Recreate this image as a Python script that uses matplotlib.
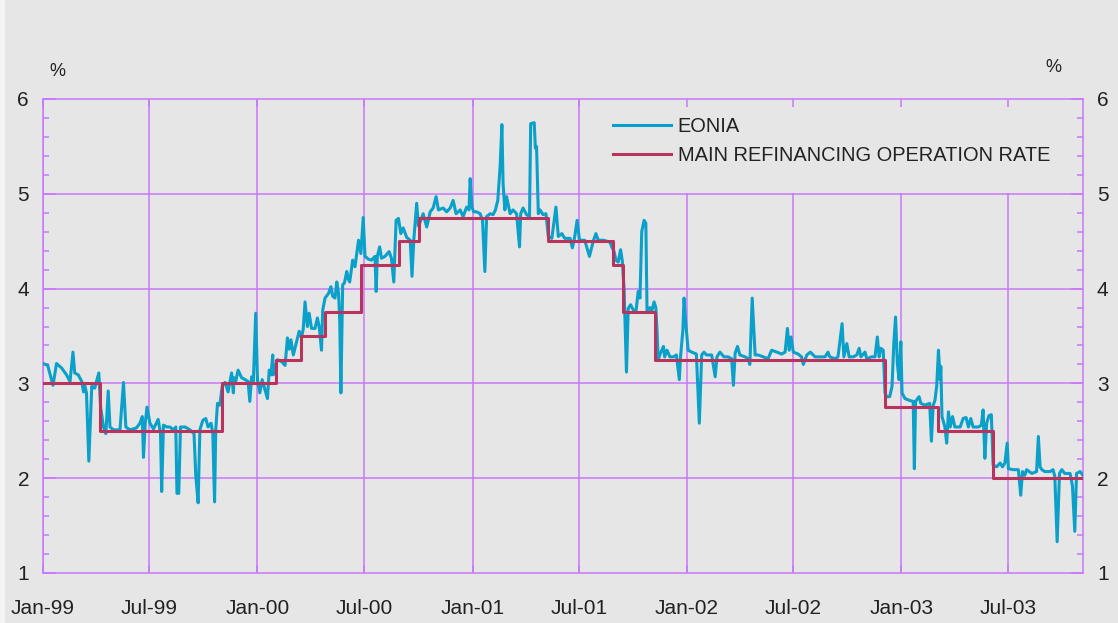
import matplotlib
matplotlib.use('Agg')
import matplotlib.pyplot as plt
from matplotlib.ticker import FixedLocator, MultipleLocator, FixedFormatter
from matplotlib.patches import Rectangle
from matplotlib.lines import Line2D
import pandas as pd

# ---------------- data ----------------
base_date = '1999-01-01'
end_day = 1770  # last day shown (offset from base_date)

# EONIA: day offsets from base_date and rate (%)
eonia_day = [0, 8, 17, 23, 32, 40, 46, 51, 54, 60, 66, 69, 71, 74, 78, 83, 88, 95, 98, 103,
             107, 111, 114, 120, 131, 137, 141, 148, 159, 165, 169, 171, 174, 177, 182, 188, 196, 200, 202, 205,
             211, 216, 222, 226, 228, 231, 234, 242, 250, 257, 260, 264, 267, 272, 277, 281, 286, 289, 292, 294,
             297, 301, 305, 310, 315, 321, 324, 325, 328, 332, 338, 344, 349, 352, 355, 358, 362, 365, 369, 373,
             378, 382, 385, 388, 391, 392, 395, 399, 406, 412, 416, 419, 422, 426, 432, 436, 440, 443, 446, 450,
             453, 457, 463, 467, 470, 474, 476, 480, 486, 490, 493, 497, 500, 503, 505, 507, 510, 513, 517, 519,
             522, 527, 531, 537, 541, 545, 548, 554, 559, 565, 567, 569, 573, 576, 582, 589, 593, 597, 601, 605,
             609, 613, 619, 625, 628, 631, 636, 639, 643, 647, 653, 659, 664, 669, 673, 681, 687, 693, 698, 703,
             710, 715, 721, 725, 727, 730, 733, 738, 744, 748, 752, 755, 761, 766, 770, 774, 778, 781, 783, 786,
             789, 795, 800, 806, 811, 813, 817, 823, 828, 830, 836, 838, 840, 843, 846, 851, 856, 860, 866, 873,
             877, 883, 888, 897, 901, 905, 909, 913, 917, 922, 930, 934, 937, 941, 945, 954, 965, 968, 972, 975,
             979, 983, 986, 989, 993, 996, 1000, 1005, 1009, 1013, 1016, 1019, 1023, 1026, 1028, 1033, 1036, 1040, 1043, 1045,
             1047, 1051, 1056, 1058, 1062, 1067, 1073, 1078, 1083, 1085, 1089, 1091, 1094, 1098, 1104, 1112, 1117, 1121, 1125, 1129,
             1138, 1144, 1147, 1152, 1159, 1166, 1172, 1175, 1178, 1182, 1186, 1195, 1200, 1203, 1207, 1212, 1217, 1226, 1234, 1240,
             1249, 1257, 1263, 1267, 1270, 1273, 1277, 1285, 1291, 1294, 1300, 1306, 1314, 1322, 1331, 1336, 1339, 1348, 1353, 1360,
             1363, 1368, 1372, 1379, 1385, 1389, 1392, 1399, 1402, 1410, 1416, 1420, 1423, 1426, 1430, 1433, 1436, 1441, 1445, 1448,
             1451, 1454, 1457, 1460, 1462, 1467, 1475, 1481, 1483, 1485, 1491, 1494, 1501, 1509, 1512, 1515, 1518, 1521, 1524, 1527,
             1528, 1530, 1535, 1538, 1541, 1544, 1548, 1552, 1561, 1566, 1571, 1575, 1579, 1583, 1592, 1597, 1600, 1603, 1606, 1610,
             1614, 1617, 1623, 1629, 1633, 1637, 1641, 1643, 1651, 1660, 1664, 1667, 1671, 1674, 1683, 1691, 1694, 1697, 1700, 1705,
             1714, 1719, 1722, 1726, 1730, 1734, 1739, 1748, 1752, 1756, 1759, 1765, 1770]
eonia_rate = [3.21, 3.19, 2.98, 3.21, 3.16, 3.09, 3.02, 3.33, 3.11, 3.09, 3.02, 2.91, 2.98, 2.90, 2.18, 2.97, 2.95, 3.11, 2.75, 2.54,
              2.47, 2.92, 2.54, 2.51, 2.51, 3.01, 2.54, 2.51, 2.53, 2.58, 2.65, 2.22, 2.58, 2.75, 2.58, 2.52, 2.62, 2.47, 1.86, 2.56,
              2.54, 2.54, 2.51, 2.54, 1.84, 1.84, 2.54, 2.54, 2.51, 2.47, 2.03, 1.74, 2.51, 2.61, 2.63, 2.54, 2.58, 2.47, 1.75, 2.51,
              2.79, 2.77, 2.97, 3.01, 2.91, 3.11, 2.90, 3.06, 3.02, 3.14, 3.06, 3.04, 3.02, 2.81, 3.07, 3.02, 3.74, 3.04, 2.90, 3.04,
              2.93, 2.84, 3.14, 3.09, 3.30, 3.09, 3.17, 3.25, 3.23, 3.19, 3.48, 3.36, 3.46, 3.30, 3.45, 3.55, 3.48, 3.58, 3.86, 3.60,
              3.74, 3.58, 3.58, 3.69, 3.60, 3.35, 3.77, 3.90, 3.95, 4.02, 3.92, 3.90, 4.07, 3.95, 3.67, 2.90, 4.04, 4.06, 4.18, 4.11,
              4.07, 4.30, 4.23, 4.51, 4.37, 4.75, 4.34, 4.31, 4.30, 4.34, 3.97, 4.34, 4.44, 4.32, 4.34, 4.39, 4.32, 4.07, 4.72, 4.74,
              4.58, 4.64, 4.54, 4.51, 4.13, 4.51, 4.90, 4.66, 4.72, 4.79, 4.65, 4.81, 4.85, 4.97, 4.83, 4.85, 4.81, 4.85, 4.93, 4.79,
              4.83, 4.76, 4.86, 4.83, 5.16, 4.86, 4.81, 4.81, 4.79, 4.72, 4.18, 4.76, 4.79, 4.78, 4.83, 4.93, 5.29, 5.73, 5.11, 4.83,
              4.97, 4.79, 4.83, 4.79, 4.44, 4.79, 4.85, 4.78, 4.76, 5.74, 5.75, 5.48, 5.50, 4.79, 4.83, 4.78, 4.79, 4.55, 4.53, 4.86,
              4.55, 4.58, 4.53, 4.53, 4.43, 4.55, 4.72, 4.51, 4.51, 4.51, 4.34, 4.44, 4.51, 4.58, 4.51, 4.51, 4.49, 4.44, 4.39, 4.30,
              4.28, 4.41, 4.29, 3.99, 3.12, 3.79, 3.83, 3.77, 3.75, 3.97, 3.90, 4.60, 4.72, 4.69, 3.76, 3.80, 3.76, 3.86, 3.80, 3.56,
              3.25, 3.32, 3.39, 3.28, 3.35, 3.28, 3.28, 3.30, 3.04, 3.28, 3.56, 3.90, 3.63, 3.35, 3.33, 3.31, 2.58, 3.30, 3.33, 3.30,
              3.30, 3.07, 3.28, 3.33, 3.28, 3.28, 3.26, 2.98, 3.32, 3.39, 3.30, 3.28, 3.26, 3.20, 3.90, 3.30, 3.30, 3.28, 3.26, 3.35,
              3.33, 3.31, 3.33, 3.58, 3.35, 3.49, 3.33, 3.31, 3.28, 3.20, 3.30, 3.33, 3.28, 3.28, 3.28, 3.33, 3.28, 3.26, 3.28, 3.63,
              3.28, 3.42, 3.28, 3.28, 3.30, 3.37, 3.28, 3.33, 3.26, 3.28, 3.28, 3.49, 3.28, 3.37, 3.35, 2.90, 2.86, 2.86, 2.97, 3.42,
              3.70, 3.21, 3.04, 3.44, 2.90, 2.84, 2.82, 2.81, 2.10, 2.81, 2.86, 2.79, 2.77, 2.79, 2.39, 2.77, 2.82, 2.97, 3.35, 3.04,
              3.18, 2.65, 2.54, 2.37, 2.70, 2.54, 2.65, 2.54, 2.54, 2.63, 2.64, 2.54, 2.63, 2.54, 2.54, 2.56, 2.72, 2.21, 2.58, 2.66,
              2.67, 2.14, 2.12, 2.16, 2.12, 2.16, 2.37, 2.10, 2.09, 2.09, 1.82, 2.07, 2.03, 2.09, 2.05, 2.07, 2.44, 2.12, 2.09, 2.07,
              2.07, 2.09, 2.02, 1.33, 2.05, 2.09, 2.05, 2.05, 1.92, 1.44, 2.05, 2.07, 2.03]

# Main refinancing operation rate: change dates and new rate (%)
mro_change_dates = ['1999-01-01', '1999-04-08', '1999-11-02', '2000-02-02', '2000-03-15', '2000-04-25',
                    '2000-06-25', '2000-08-29', '2000-10-02', '2001-05-09', '2001-08-28', '2001-09-14',
                    '2001-11-07', '2002-12-04', '2003-03-04', '2003-06-06']
mro_rates = [3.00, 2.50, 3.00, 3.25, 3.50, 3.75, 4.25, 4.50, 4.75, 4.50, 4.25, 3.75, 3.25, 2.75, 2.50, 2.00]

x_tick_dates = ['1999-01-01', '1999-07-01', '2000-01-01', '2000-07-01', '2001-01-01', '2001-07-01',
                '2002-01-01', '2002-07-01', '2003-01-01', '2003-07-01']
x_tick_labels = ['Jan-99', 'Jul-99', 'Jan-00', 'Jul-00', 'Jan-01', 'Jul-01',
                 'Jan-02', 'Jul-02', 'Jan-03', 'Jul-03']
y_ticks = [1, 2, 3, 4, 5, 6]
y_grid = [2, 3, 4, 5]

series_labels = ['EONIA', 'MAIN REFINANCING OPERATION RATE']

# ---------------- style ----------------
BG = '#e6e6e6'
GRID = '#c878f8'
EONIA_C = '#0aa0c9'
MRO_C = '#b8345c'
TXT = '#222222'
plt.rcParams['font.family'] = ['Liberation Sans', 'DejaVu Sans']

W, H = 1118, 623
fig = plt.figure(figsize=(W / 100, H / 100), dpi=100, facecolor=BG)
fig.patches.append(Rectangle((0, 0), 5 / W, 1, transform=fig.transFigure,
                             facecolor='#f4f4f4', edgecolor='none', zorder=0))

ax = fig.add_axes([43 / W, 1 - 573 / H, 1040 / W, 474 / H])
ax.set_facecolor(BG)

base = pd.Timestamp(base_date)
eonia_x = base + pd.to_timedelta(eonia_day, unit='D')
mro_x = list(pd.to_datetime(mro_change_dates)) + [base + pd.Timedelta(days=end_day)]
mro_y = mro_rates + [mro_rates[-1]]
tick_x = pd.to_datetime(x_tick_dates)

# grid (manual so it sits below the legend box)
for t in tick_x:
    ax.axvline(t, color=GRID, lw=1.1, zorder=1)
for yv in y_grid:
    ax.axhline(yv, color=GRID, lw=1.1, zorder=1)

# legend background box hiding the grid
ax.add_patch(Rectangle(((590 - 43) / 1040, (573 - 193) / 474), (1079 - 590) / 1040, 193 / 474,
                       transform=ax.transAxes, facecolor=BG, edgecolor='none', zorder=1.5))

ax.plot(eonia_x, eonia_rate, color=EONIA_C, lw=2.2, zorder=3, solid_joinstyle='round')
ax.plot(mro_x, mro_y, color=MRO_C, lw=2.2, drawstyle='steps-post', zorder=4)

ax.set_xlim(base, base + pd.Timedelta(days=end_day))
ax.set_ylim(1, 6)

for s in ax.spines.values():
    s.set_color(GRID)
    s.set_linewidth(1.1)

ax.xaxis.set_major_locator(FixedLocator([matplotlib.dates.date2num(t) for t in tick_x]))
ax.xaxis.set_major_formatter(FixedFormatter(x_tick_labels))
ax.tick_params(axis='x', which='major', direction='in', top=True, bottom=True, length=6,
               color=GRID, width=1.1, labelsize=15, labelcolor=TXT, pad=19)

ax.yaxis.set_major_locator(FixedLocator(y_ticks))
ax.yaxis.set_minor_locator(MultipleLocator(0.2))
ax.tick_params(axis='y', which='both', direction='in', left=True, right=True,
               labelleft=True, labelright=True, color=GRID, width=1.1)
ax.tick_params(axis='y', which='major', length=9, labelsize=15, labelcolor=TXT, pad=10)
ax.tick_params(axis='y', which='minor', length=4.5)

handles = [Line2D([], [], color=EONIA_C, lw=2.2), Line2D([], [], color=MRO_C, lw=2.2)]
ax.legend(handles, series_labels, loc='upper left',
          bbox_to_anchor=((613 - 43) / 1040, (573 - 117) / 474),
          frameon=False, fontsize=14.4, handlelength=2.9, handletextpad=0.33,
          labelspacing=0.5, borderpad=0, borderaxespad=0, labelcolor=TXT)

fig.text(57 / W, 1 - 72 / H, '%', ha='center', va='center', fontsize=13, color=TXT)
fig.text(1053 / W, 1 - 68 / H, '%', ha='center', va='center', fontsize=13, color=TXT)

fig.savefig('out.png', dpi=100, facecolor=BG)
